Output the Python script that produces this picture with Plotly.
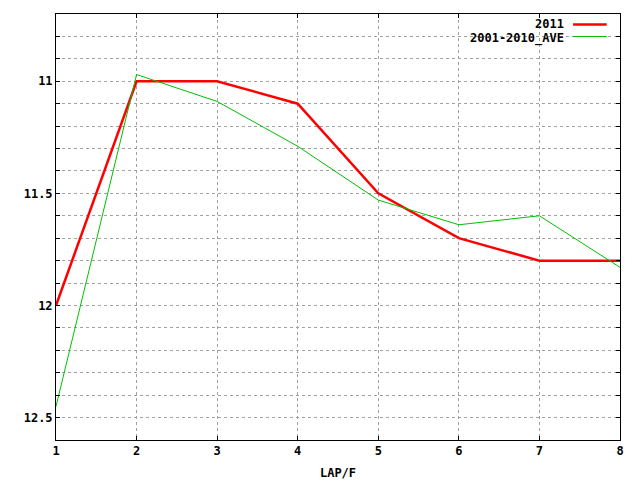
import plotly.graph_objects as go

laps = [1, 2, 3, 4, 5, 6, 7, 8]
series_names = ["2011", "2001-2010_AVE"]
values_2011 = [12.0, 11.0, 11.0, 11.1, 11.5, 11.7, 11.8, 11.8]
values_ave = [12.45, 10.97, 11.09, 11.29, 11.53, 11.64, 11.6, 11.83]
y_ticks = [11, 11.5, 12, 12.5]

colors = ["#ff0000", "#00c000"]
widths = [2.5, 1]
font = dict(family="DejaVu Sans Mono", size=12, color="black", weight="bold")

fig = go.Figure()
for name, vals, c, w in zip(series_names, [values_2011, values_ave], colors, widths):
    fig.add_trace(go.Scatter(x=laps, y=vals, mode="lines", name=name,
                             line=dict(color=c, width=w), showlegend=False))

# gnuplot style key: text right-aligned, line sample on its right
key_y = [0.9754, 0.9472]
fig.add_annotation(x=0.9026, y=key_y[0], xref="paper", yref="paper", text=series_names[0],
                   showarrow=False, xanchor="right", yanchor="middle", font=font,
                   height=12, borderpad=0)
fig.add_annotation(x=0.9026, y=0.9613, xref="paper", yref="paper", text=series_names[1],
                   showarrow=False, xanchor="right", yanchor="top", font=font,
                   borderpad=0)
for c, w, ky in zip(colors, widths, key_y):
    fig.add_shape(type="line", xref="paper", yref="paper", x0=0.9168, x1=0.9764,
                  y0=ky, y1=ky, line=dict(color=c, width=w))

axis_common = dict(showline=True, linecolor="black", linewidth=1, mirror="allticks",
                   ticks="inside", ticklen=4, tickcolor="black",
                   showgrid=True, gridcolor="#a0a0a0", griddash="dot", gridwidth=1,
                   zeroline=False, tickfont=font)

fig.update_xaxes(range=[1, 8], tickvals=laps, **axis_common,
                 title=dict(text="LAP/F", font=font, standoff=12))
fig.update_yaxes(range=[12.6, 10.7], tickvals=y_ticks, ticktext=[str(v) for v in y_ticks],
                 **axis_common,
                 minor=dict(dtick=0.1, tick0=10.7, ticks="inside", ticklen=4, tickcolor="black",
                            showgrid=True, gridcolor="#a0a0a0", griddash="dot", gridwidth=1))

# page body adds an 8px offset, so the figure is a little smaller
fig.update_layout(width=632, height=472, plot_bgcolor="white", paper_bgcolor="white",
                  margin=dict(l=47.5, r=20, t=5.5, b=40, autoexpand=False))

fig.write_html("out.html")
